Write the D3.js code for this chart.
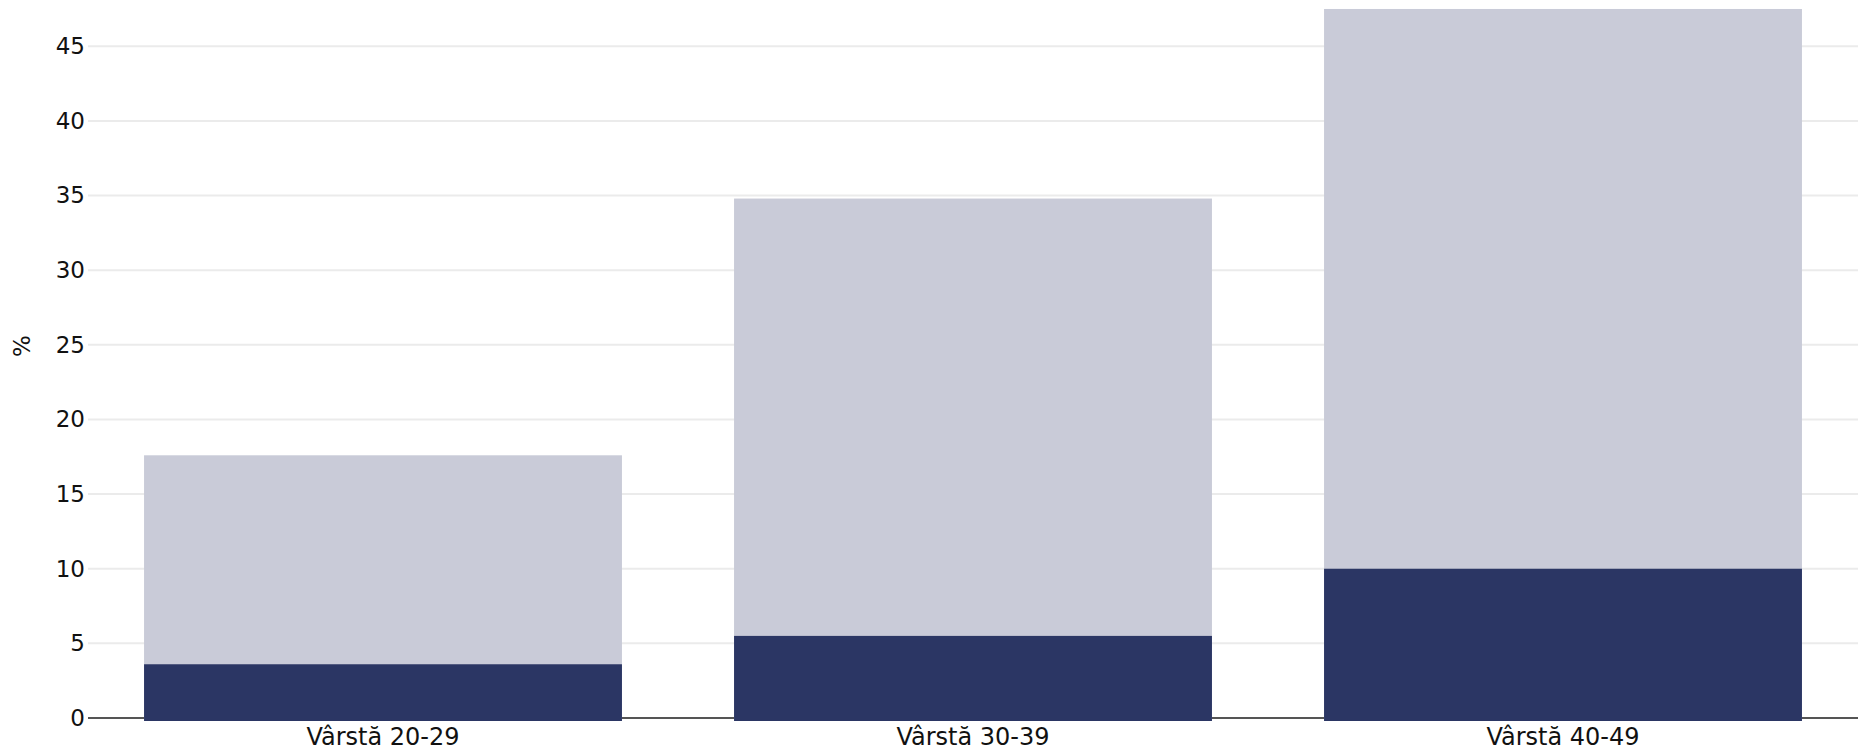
<!DOCTYPE html>
<html>
<head>
<meta charset="utf-8">
<script src="https://cdn.jsdelivr.net/npm/d3@7"></script>
<style>
  html, body { margin: 0; padding: 0; background: #fff; }
  svg { display: block; font-family: 'DejaVu Sans', sans-serif; }
</style>
</head>
<body>
<div id="chart"><svg id="svg"></svg></div>
<script>
// data
const categories = ['Vârstă 20-29', 'Vârstă 30-39', 'Vârstă 40-49'];
const totalValues = [17.6, 34.8, 47.5];
const innerValues = [3.6, 5.5, 10.0];
const yTicks = [0, 5, 10, 15, 20, 25, 30, 35, 40, 45];
const yLabel = '%';

const W = 1858, H = 750;
const margin = {top: 0, right: 0, bottom: 32, left: 88};

const svg = d3.select('#svg')
  .attr('width', W)
  .attr('height', H);

const x = d3.scaleBand()
  .domain(categories)
  .range([margin.left, W - margin.right])
  .paddingInner(0.19)
  .paddingOuter(0.095);

// 0 sits at 718, 45 at ~46
const y = d3.scaleLinear()
  .domain([0, 45])
  .range([718, 46.3]);

// gridlines
svg.append('g')
  .selectAll('line')
  .data(yTicks.filter(d => d > 0))
  .join('line')
    .attr('x1', margin.left)
    .attr('x2', W)
    .attr('y1', d => y(d))
    .attr('y2', d => y(d))
    .attr('stroke', '#ebebeb')
    .attr('stroke-width', 2);

// y tick labels
const yAxis = svg.append('g')
  .attr('transform', 'translate(' + margin.left + ',0)')
  .call(d3.axisLeft(y).tickValues(yTicks).tickSize(0).tickPadding(3));
yAxis.select('.domain').remove();
yAxis.selectAll('text')
  .style('font-family', "'DejaVu Sans', sans-serif")
  .style('font-size', '23px')
  .attr('fill', '#111');

// baseline
svg.append('line')
  .attr('x1', margin.left)
  .attr('x2', W)
  .attr('y1', y(0))
  .attr('y2', y(0))
  .attr('stroke', '#555')
  .attr('stroke-width', 2);

// bars: total in light grey, inner share in navy
const rows = categories.map((c, i) => ({cat: c, total: totalValues[i], inner: innerValues[i]}));

svg.append('g')
  .selectAll('rect')
  .data(rows)
  .join('rect')
    .attr('x', d => x(d.cat))
    .attr('width', x.bandwidth())
    .attr('y', d => y(d.total))
    .attr('height', d => y(0) - y(d.total) + 3)
    .attr('fill', '#c9cbd8');

svg.append('g')
  .selectAll('rect')
  .data(rows)
  .join('rect')
    .attr('x', d => x(d.cat))
    .attr('width', x.bandwidth())
    .attr('y', d => y(d.inner))
    .attr('height', d => y(0) - y(d.inner) + 3)
    .attr('fill', '#2b3664');

// x labels
const xAxis = svg.append('g')
  .attr('transform', 'translate(0,' + y(0) + ')')
  .call(d3.axisBottom(x).tickSize(0).tickPadding(10));
xAxis.select('.domain').remove();
xAxis.selectAll('text')
  .style('font-family', "'DejaVu Sans', sans-serif")
  .style('font-size', '24px')
  .attr('fill', '#111');

// y axis title
svg.append('text')
  .attr('transform', 'translate(30,346) rotate(-90)')
  .attr('text-anchor', 'middle')
  .style('font-size', '23px')
  .attr('fill', '#111')
  .text(yLabel);
</script>
</body>
</html>
